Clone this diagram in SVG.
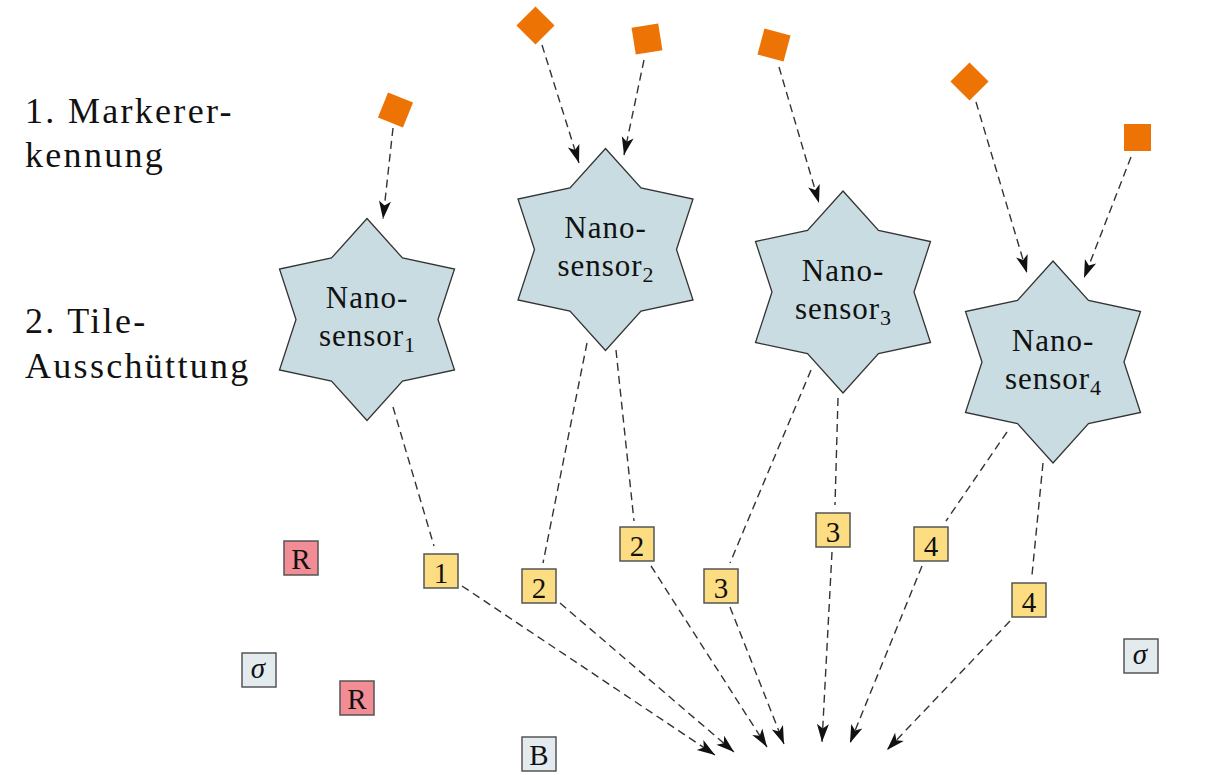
<svg xmlns="http://www.w3.org/2000/svg" xmlns:xlink="http://www.w3.org/1999/xlink" width="1209" height="775" viewBox="0 0 1209 775">
<style>
.lbl{font-family:"Liberation Serif","Times New Roman",serif;font-size:36px;letter-spacing:2.3px;fill:#111}
.st{fill:#c8dce2;stroke:#333;stroke-width:1.3}
.nt{font-family:"Liberation Serif","Times New Roman",serif;font-size:31px;letter-spacing:1px;fill:#111;text-anchor:middle}
.sub{font-size:22px;letter-spacing:0}
.mk{fill:#ed7404}
.c{fill:none;stroke:#333;stroke-width:1.4;stroke-dasharray:8 5}
.a{marker-end:url(#ah)}
.tl{stroke:#555;stroke-width:1.5}
.y{fill:#fcdd82}
.p{fill:#f28d96}
.g{fill:#e3ebee}
.tt{font-family:"Liberation Serif","Times New Roman",serif;font-size:29px;fill:#111;text-anchor:middle}
</style>
<defs>
<marker id="ah" viewBox="-19 -7 20 14" refX="0" refY="0" markerWidth="20" markerHeight="14" markerUnits="userSpaceOnUse" orient="auto">
<path d="M0,0 L-18,-6 L-13.5,0 L-18,6 Z" fill="#111"/>
</marker>
<polygon id="star" class="st" points="0,-101 35.5,-61.5 87.5,-50.5 71,0 87.5,50.5 35.5,61.5 0,101 -35.5,61.5 -87.5,50.5 -71,0 -87.5,-50.5 -35.5,-61.5"/>
</defs>
<rect width="1209" height="775" fill="#fff"/>

<g id="labels">
<text class="lbl" x="25" y="123">1. Markerer-</text>
<text class="lbl" x="25" y="167">kennung</text>
<text class="lbl" x="25" y="333">2. Tile-</text>
<text class="lbl" x="25" y="378">Ausschüttung</text>
</g>

<g id="connectors">
<line class="c a" x1="393" y1="128" x2="383" y2="219"/>
<line class="c a" x1="542" y1="45" x2="579" y2="163"/>
<line class="c a" x1="644" y1="60" x2="624" y2="155"/>
<line class="c a" x1="779" y1="67" x2="819" y2="203"/>
<line class="c a" x1="976" y1="102" x2="1027" y2="273"/>
<line class="c a" x1="1131" y1="157" x2="1084" y2="278"/>
<line class="c" x1="393" y1="407" x2="434" y2="546"/>
<line class="c" x1="587" y1="343" x2="543" y2="563"/>
<line class="c" x1="616" y1="350" x2="634" y2="521"/>
<line class="c" x1="811" y1="370" x2="730" y2="563"/>
<line class="c" x1="838" y1="398" x2="835" y2="505"/>
<line class="c" x1="1007" y1="432" x2="946" y2="521"/>
<line class="c" x1="1043" y1="463" x2="1032" y2="575"/>
<line class="c a" x1="462" y1="586" x2="715" y2="755"/>
<line class="c a" x1="560" y1="603" x2="734" y2="752"/>
<line class="c a" x1="651" y1="566" x2="767" y2="747"/>
<line class="c a" x1="730" y1="607" x2="784" y2="744"/>
<line class="c a" x1="832" y1="552" x2="822" y2="742"/>
<line class="c a" x1="922" y1="566" x2="850" y2="743"/>
<line class="c a" x1="1010" y1="621" x2="887" y2="750"/>
</g>

<g id="marker1"><rect class="mk" x="-13.5" y="-13.5" width="27" height="27" transform="translate(395.5 110) rotate(22)"/></g>
<g id="marker2a"><rect class="mk" x="-13.5" y="-13.5" width="27" height="27" transform="translate(535.5 25.5) rotate(45)"/></g>
<g id="marker2b"><rect class="mk" x="-13.5" y="-13.5" width="27" height="27" transform="translate(647 39) rotate(-9)"/></g>
<g id="marker3"><rect class="mk" x="-13.5" y="-13.5" width="27" height="27" transform="translate(774 45) rotate(15)"/></g>
<g id="marker4a"><rect class="mk" x="-13.5" y="-13.5" width="27" height="27" transform="translate(969.5 81.5) rotate(45)"/></g>
<g id="marker4b"><rect class="mk" x="-13.5" y="-13.5" width="27" height="27" transform="translate(1137.5 137.5)"/></g>

<g id="sensor1"><use xlink:href="#star" href="#star" transform="translate(367 319.5)"/>
<text class="nt" x="367" y="308">Nano-</text>
<text class="nt" x="367" y="346">sensor<tspan class="sub" dy="6">1</tspan></text></g>
<g id="sensor2"><use xlink:href="#star" href="#star" transform="translate(605.5 249.5)"/>
<text class="nt" x="605.5" y="238">Nano-</text>
<text class="nt" x="605.5" y="276">sensor<tspan class="sub" dy="6">2</tspan></text></g>
<g id="sensor3"><use xlink:href="#star" href="#star" transform="translate(843 292)"/>
<text class="nt" x="843" y="280.5">Nano-</text>
<text class="nt" x="843" y="318.5">sensor<tspan class="sub" dy="6">3</tspan></text></g>
<g id="sensor4"><use xlink:href="#star" href="#star" transform="translate(1053 362)"/>
<text class="nt" x="1053" y="350.5">Nano-</text>
<text class="nt" x="1053" y="388.5">sensor<tspan class="sub" dy="6">4</tspan></text></g>

<g id="tileR1"><rect class="tl p" x="284" y="541" width="34" height="34"/><text class="tt" x="301" y="568.5">R</text></g>
<g id="tileR2"><rect class="tl p" x="340" y="681" width="34" height="34"/><text class="tt" x="357" y="708.5">R</text></g>
<g id="tileSigma1"><rect class="tl g" x="242" y="653" width="34" height="34"/><text class="tt" x="258" y="678" font-style="italic">σ</text></g>
<g id="tileSigma2"><rect class="tl g" x="1124" y="639" width="34" height="34"/><text class="tt" x="1140" y="664" font-style="italic">σ</text></g>
<g id="tileB"><rect class="tl g" x="522" y="737" width="34" height="34"/><text class="tt" x="539" y="764.5">B</text></g>
<g id="tile1"><rect class="tl y" x="424" y="554" width="34" height="34"/><text class="tt" x="441" y="582.5">1</text></g>
<g id="tile2a"><rect class="tl y" x="522" y="569" width="34" height="34"/><text class="tt" x="539" y="597.5">2</text></g>
<g id="tile2b"><rect class="tl y" x="620" y="527" width="34" height="34"/><text class="tt" x="637" y="555.5">2</text></g>
<g id="tile3a"><rect class="tl y" x="704" y="569" width="34" height="34"/><text class="tt" x="721" y="597.5">3</text></g>
<g id="tile3b"><rect class="tl y" x="816" y="513" width="34" height="34"/><text class="tt" x="833" y="541.5">3</text></g>
<g id="tile4a"><rect class="tl y" x="914" y="527" width="34" height="34"/><text class="tt" x="931" y="555.5">4</text></g>
<g id="tile4b"><rect class="tl y" x="1012" y="583" width="34" height="34"/><text class="tt" x="1029" y="611.5">4</text></g>
</svg>
